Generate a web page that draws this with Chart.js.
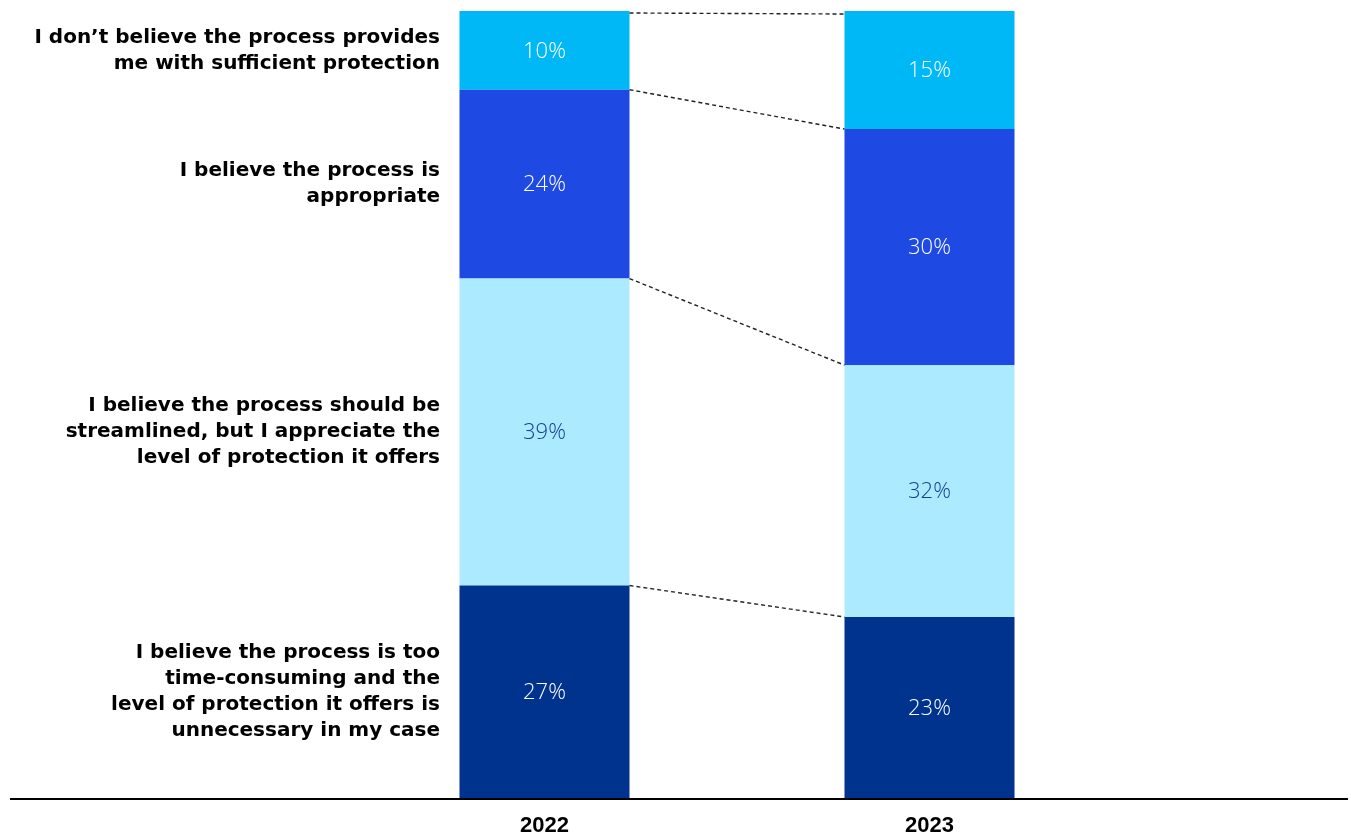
<!DOCTYPE html>
<html>
<head>
<meta charset="utf-8">
<script src="https://cdn.jsdelivr.net/npm/chart.js@4.4.0/dist/chart.umd.min.js"></script>
<style>
  body { margin: 0; background: #fff; }
  canvas { display: block; }
</style>
</head>
<body>
<canvas id="grafico" width="1351" height="834"></canvas>
<script>
// anos e respostas (de baixo para cima na pilha)
const anos = ['2022', '2023'];
const respostas = [
    ['I believe the process is too', 'time-consuming and the', 'level of protection it offers is', 'unnecessary in my case'],
    ['I believe the process should be', 'streamlined, but I appreciate the', 'level of protection it offers'],
    ['I believe the process is', 'appropriate'],
    ['I don\u2019t believe the process provides', 'me with sufficient protection']
];
const tooTimeConsuming = [27, 23];
const shouldBeStreamlined = [39, 32];
const appropriate = [24, 30];
const notSufficient = [10, 15];

const cores = ['#00338D', '#ACEAFF', '#1E49E2', '#00B8F5'];
const coresTexto = ['#ffffff', '#153f99', '#ffffff', '#ffffff'];

// rótulos da esquerda, valores, linhas tracejadas e linha de base
const desenhos = {
    id: 'desenhos',
    afterDatasetsDraw(chart) {
        const ctx = chart.ctx;
        const area = chart.chartArea;
        ctx.save();

        // linhas tracejadas ligando o topo de cada segmento
        ctx.strokeStyle = '#222';
        ctx.lineWidth = 1.4;
        ctx.setLineDash([4, 3]);
        chart.data.datasets.forEach((ds, i) => {
            const barras = chart.getDatasetMeta(i).data;
            const a = barras[0], b = barras[1];
            const ya = i === 3 ? a.y + 2 : a.y;
            const yb = i === 3 ? b.y + 3 : b.y;
            ctx.beginPath();
            ctx.moveTo(a.x + a.width / 2, ya);
            ctx.lineTo(b.x - b.width / 2, yb);
            ctx.stroke();
        });
        ctx.setLineDash([]);

        // valores dentro das barras
        ctx.font = '300 22px "Open Sans"';
        ctx.textAlign = 'center';
        ctx.textBaseline = 'middle';
        chart.data.datasets.forEach((ds, i) => {
            chart.getDatasetMeta(i).data.forEach((bar, j) => {
                ctx.fillStyle = coresTexto[i];
                ctx.fillText(ds.data[j] + '%', bar.x, (bar.y + bar.base) / 2 + 1);
            });
        });

        // respostas alinhadas com os segmentos de 2022
        ctx.font = 'bold 20px "DejaVu Sans", sans-serif';
        ctx.textAlign = 'right';
        ctx.fillStyle = '#000';
        const alturaLinha = 26;
        respostas.forEach((linhas, i) => {
            const bar = chart.getDatasetMeta(i).data[0];
            const centro = (bar.y + bar.base) / 2;
            const inicio = centro - (linhas.length - 1) * alturaLinha / 2;
            linhas.forEach((txt, k) => {
                ctx.fillText(txt, 440, inicio + k * alturaLinha);
            });
        });

        // linha de base
        ctx.strokeStyle = '#000';
        ctx.lineWidth = 2;
        ctx.beginPath();
        ctx.moveTo(10, area.bottom + 1);
        ctx.lineTo(1348, area.bottom + 1);
        ctx.stroke();

        ctx.restore();
    }
};

const series = [tooTimeConsuming, shouldBeStreamlined, appropriate, notSufficient];

var ctxG = document.getElementById('grafico').getContext('2d');
var grafico = new Chart(ctxG, {
    type: 'bar',
    data: {
        labels: anos,
        datasets: series.map((valores, i) => ({
            label: respostas[i].join(' '),
            data: valores,
            backgroundColor: cores[i],
            borderWidth: 0,
            categoryPercentage: 1,
            barPercentage: 0.4416
        }))
    },
    options: {
        responsive: false,
        animation: false,
        layout: {
            padding: { top: 11, left: 352, right: 229, bottom: 0 }
        },
        plugins: {
            legend: { display: false },
            tooltip: { enabled: false }
        },
        scales: {
            x: {
                stacked: true,
                grid: { display: false, drawTicks: false },
                border: { display: false },
                ticks: {
                    color: '#000',
                    padding: 17,
                    font: { family: '"Liberation Sans", Arial, sans-serif', size: 22, weight: 'bold', lineHeight: 1 }
                },
                afterFit(scale) { scale.height = 36; }
            },
            y: {
                stacked: true,
                display: false,
                min: 0,
                max: 100
            }
        }
    },
    plugins: [desenhos]
});
</script>
</body>
</html>
